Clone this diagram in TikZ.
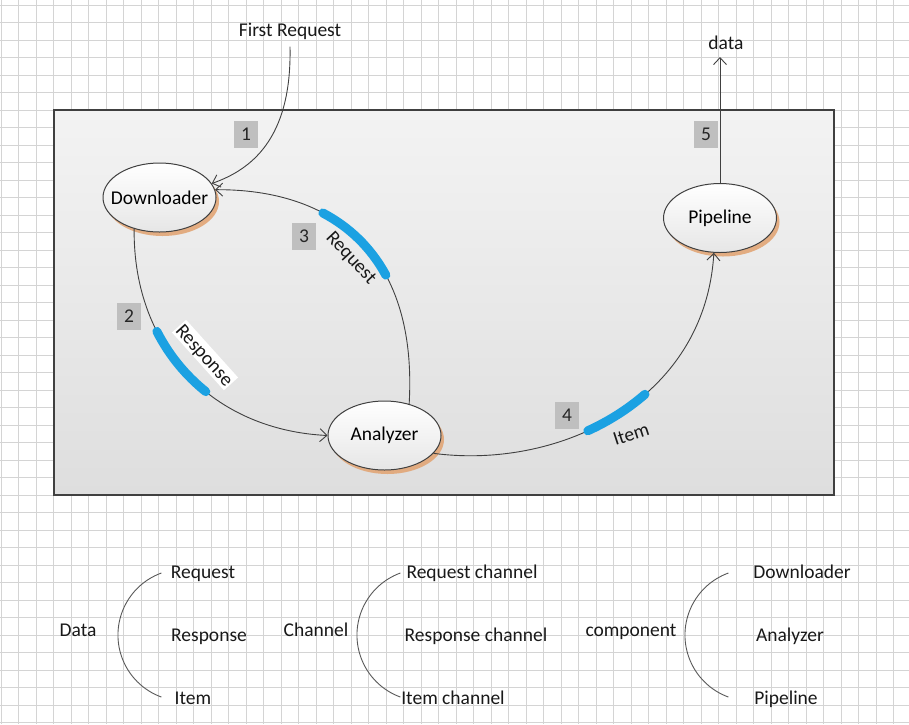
\documentclass[tikz,border=0pt]{standalone}
\usepackage{fontspec}
\setmainfont{Carlito}
\usetikzlibrary{shapes.geometric,arrows.meta,shadows}
\definecolor{linec}{HTML}{404040}
\definecolor{gridc}{HTML}{D4D4D4}
\definecolor{boxg}{HTML}{BFBFBF}
\definecolor{hlblue}{HTML}{1BA1E2}
\definecolor{shadc}{HTML}{E2A676}
\definecolor{panetop}{HTML}{F3F3F3}
\definecolor{panebot}{HTML}{DEDEDE}
\definecolor{ellbot}{HTML}{E6E6E6}
\newcommand\myblueseg[6]{%
  \begin{pgfscope}
  \pgfsetlinewidth{9pt}\pgfsetroundcap\pgfsetstrokecolor{hlblue}
  \pgfpathcurvebetweentime{#1}{#2}{#3}{#4}{#5}{#6}
  \pgfusepath{stroke}
  \end{pgfscope}}
\tikzset{
  comp/.style={ellipse, draw=linec, line width=1pt, minimum width=113pt, minimum height=69pt,
    inner sep=0pt, top color=white, bottom color=ellbot,
    drop shadow={shadow xshift=3pt, shadow yshift=-4pt, fill=shadc, opacity=0.9}},
  conn/.style={draw=linec, line width=0.9pt, -{Straight Barb[length=7pt,width=13pt,line width=0.9pt]}},
  numbox/.style={fill=boxg, minimum width=24pt, minimum height=27pt, inner sep=0pt, text=black!85},
  lbl/.style={text height=15pt, text depth=2pt, inner sep=1pt, text=black!90},
  legarc/.style={draw=black!65, line width=0.9pt},
}
\begin{document}
\begin{tikzpicture}[x=1pt, y=-1pt, font=\fontsize{19.5}{23}\selectfont]
\useasboundingbox (0,0) rectangle (909,724);
\fill[white] (0,0) rectangle (909,724);
% grid
\foreach \i in {0,...,51} \draw[gridc, line width=0.8pt] ({1+17.5*\i},0) -- ({1+17.5*\i},724);
\foreach \j in {0,...,41} \draw[gridc, line width=0.8pt] (0,{5+17.5*\j}) -- (909,{5+17.5*\j});
% pane
\path[top color=panetop, bottom color=panebot] (54,110) rectangle (834,495);
\draw[linec, line width=1.3pt] (54,110) rectangle (834,495);

% components
\node[comp] (dl) at (159.5,197.5) {\makebox[0pt]{Downloader}};
\node[comp] (an) at (384.5,435.5) {\makebox[0pt]{Analyzer}};
\node[comp] (pl) at (720,218) {\makebox[0pt]{Pipeline}};

% outside labels
\node[lbl] (fr) at (290,30) {First Request};
\node[lbl] (data) at (726,43) {data};
\coordinate (dtip) at (720,57);

% connectors
\draw[conn] ([yshift=-7pt]fr.south) .. controls (292,140) and (250,170) .. (dl.15);
\draw[conn] (dl.231) .. controls (133,350) and (215,430) .. (an.180);
\draw[conn] (an.52) .. controls (418,250) and (330,189) .. (dl.8);
\draw[conn] (an.-20) .. controls (560,470) and (705,400) .. (pl.260);
\draw[conn] (pl.north) -- (dtip);

% blue highlights
\myblueseg{0.32}{0.58}{\pgfpointanchor{dl}{231}}{\pgfpointxy{133}{350}}{\pgfpointxy{215}{430}}{\pgfpointanchor{an}{180}}
\myblueseg{0.35}{0.65}{\pgfpointanchor{an}{52}}{\pgfpointxy{418}{250}}{\pgfpointxy{330}{189}}{\pgfpointanchor{dl}{8}}
\myblueseg{0.41}{0.59}{\pgfpointanchor{an}{-20}}{\pgfpointxy{560}{470}}{\pgfpointxy{705}{400}}{\pgfpointanchor{pl}{260}}

% connector labels
\node[lbl, fill=white, rotate=-48] (lresp) at (205,355) {Response};
\node[lbl, rotate=-47] (lreq) at (352,257) {Request};
\node[lbl, rotate=18] (litem) at (631,434) {Item};

% number boxes
\node[numbox] (n1) at (246,134) {1};
\node[numbox] (n2) at (129,316) {2};
\node[numbox] (n3) at (304,236) {3};
\node[numbox] (n4) at (567,415) {4};
\node[numbox] (n5) at (706,134) {5};

% legend 1
\node[lbl] (gdata) at (78,630) {Data};
\node[lbl] (g1a) at (203,572) {Request};
\node[lbl] (g1b) at (209,635) {Response};
\node[lbl] (g1c) at (193,698) {Item};
\coordinate (a1) at (161.4,573);
\draw[legarc] (a1) arc[start angle=250, end angle=110, radius=66];

% legend 2
\node[lbl] (gchan) at (316,630) {Channel};
\node[lbl] (g2a) at (472,572) {Request channel};
\node[lbl] (g2b) at (476,635) {Response channel};
\node[lbl] (g2c) at (453,698) {Item channel};
\coordinate (a2) at (400.4,573);
\draw[legarc] (a2) arc[start angle=250, end angle=110, radius=66];

% legend 3
\node[lbl] (gcomp) at (631,630) {component};
\node[lbl] (g3a) at (802,572) {Downloader};
\node[lbl] (g3b) at (790,635) {Analyzer};
\node[lbl] (g3c) at (786,698) {Pipeline};
\coordinate (a3) at (728.4,573);
\draw[legarc] (a3) arc[start angle=250, end angle=110, radius=66];
\end{tikzpicture}
\end{document}
